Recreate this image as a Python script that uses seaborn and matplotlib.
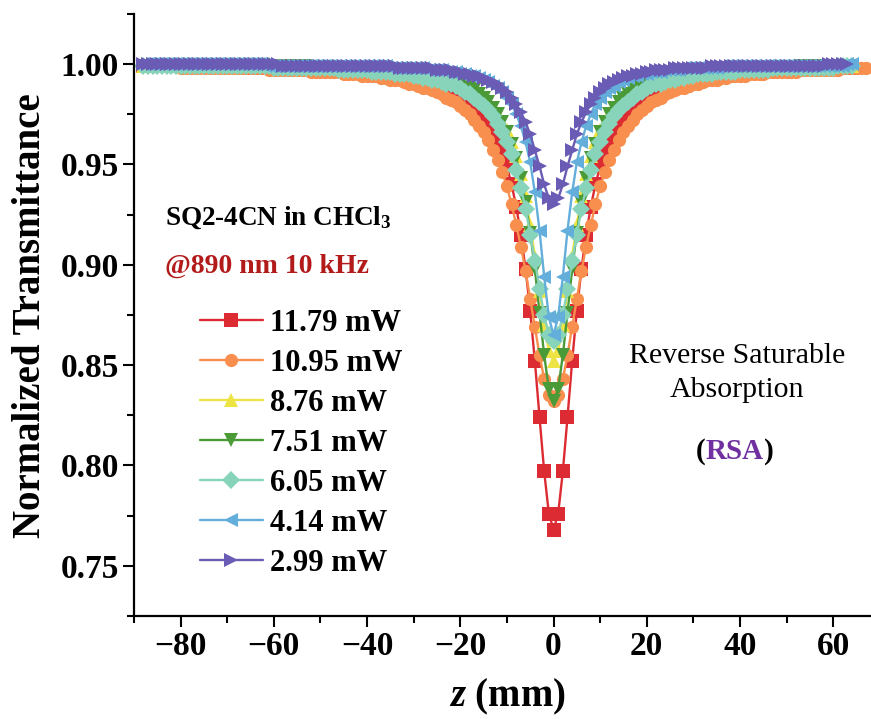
import numpy as np
import pandas as pd
import matplotlib
matplotlib.use("Agg")
import matplotlib.pyplot as plt
from matplotlib.ticker import MultipleLocator, FormatStrFormatter
import seaborn as sns

# ---------------- data ----------------
powers = ["11.79 mW", "10.95 mW", "8.76 mW", "7.51 mW", "6.05 mW", "4.14 mW", "2.99 mW"]
colors = ["#DC2B33", "#F98F4E", "#EDE443", "#4A9A38", "#88D4BB", "#64AEDC", "#6A5BB4"]
markers = ["s", "o", "^", "v", "D", "<", ">"]
z_start = -88  # first z position (mm), 1 mm step

t_1179 = [
    0.999, 0.999, 0.999, 0.999, 0.999, 0.999, 0.999, 0.999, 0.999, 0.999,
    0.999, 0.999, 0.999, 0.999, 0.999, 0.999, 0.999, 0.999, 0.999, 0.999,
    0.999, 0.999, 0.999,
    0.998, 0.998, 0.998, 0.998, 0.998, 0.998, 0.998, 0.998, 0.998, 0.998,
    0.998, 0.998, 0.998, 0.998, 0.998,
    0.997, 0.997, 0.997, 0.997, 0.997, 0.997, 0.997, 0.997,
    0.996, 0.996, 0.996, 0.996, 0.996,
    0.995, 0.995, 0.995,
    0.994, 0.994, 0.994,
    0.993, 0.993, 0.992, 0.992, 0.991, 0.991, 0.990, 0.989, 0.988, 0.987,
    0.986, 0.985, 0.983, 0.981, 0.979, 0.977, 0.974, 0.971, 0.967, 0.962,
    0.956, 0.949, 0.940, 0.929, 0.915, 0.898, 0.877, 0.852, 0.824, 0.797, 0.776,
    0.768,
    0.776, 0.797, 0.824, 0.852, 0.877, 0.898, 0.915, 0.929, 0.940, 0.949,
    0.956, 0.962, 0.967, 0.971, 0.974, 0.977, 0.979, 0.981, 0.983, 0.985,
    0.986, 0.987, 0.988, 0.989, 0.990, 0.991, 0.991, 0.992, 0.992, 0.993, 0.993,
    0.994, 0.994, 0.994,
    0.995, 0.995, 0.995,
    0.996, 0.996, 0.996, 0.996, 0.996,
    0.997, 0.997, 0.997, 0.997, 0.997, 0.997, 0.997, 0.997,
    0.998, 0.998, 0.998, 0.998, 0.998, 0.998, 0.998, 0.998, 0.998, 0.998,
    0.998, 0.998, 0.998, 0.998,
]

t_1095 = [
    0.999, 0.999, 0.999, 0.999, 0.999, 0.999, 0.999, 0.999,
    0.998, 0.998, 0.998, 0.998, 0.998, 0.998, 0.998, 0.998, 0.998, 0.998,
    0.998, 0.998, 0.998, 0.998, 0.998, 0.998, 0.998, 0.998, 0.998,
    0.997, 0.997, 0.997, 0.997, 0.997, 0.997, 0.997, 0.997, 0.997,
    0.996, 0.996, 0.996, 0.996, 0.996, 0.996, 0.996,
    0.995, 0.995, 0.995, 0.995,
    0.994, 0.994, 0.994, 0.994,
    0.993, 0.993, 0.992, 0.992, 0.992, 0.991, 0.990, 0.990, 0.989, 0.988,
    0.988, 0.987, 0.986, 0.985, 0.983, 0.982, 0.981, 0.979, 0.977, 0.975,
    0.972, 0.969, 0.966, 0.962, 0.957, 0.952, 0.946, 0.939, 0.930, 0.920,
    0.909, 0.897, 0.883, 0.869, 0.855, 0.843, 0.835,
    0.832,
    0.835, 0.843, 0.855, 0.869, 0.883, 0.897, 0.909, 0.920, 0.930, 0.939,
    0.946, 0.952, 0.957, 0.962, 0.966, 0.969, 0.972, 0.975, 0.977, 0.979,
    0.981, 0.982, 0.983, 0.985, 0.986, 0.987, 0.988, 0.988, 0.989, 0.990,
    0.990, 0.991, 0.992, 0.992, 0.992, 0.993, 0.993,
    0.994, 0.994, 0.994, 0.994,
    0.995, 0.995, 0.995, 0.995,
    0.996, 0.996, 0.996, 0.996, 0.996, 0.996, 0.996,
    0.997, 0.997, 0.997, 0.997, 0.997, 0.997, 0.997, 0.997, 0.997,
    0.998, 0.998, 0.998, 0.998, 0.998, 0.998,
]

t_876 = [
    0.999, 0.999, 0.999, 0.999, 0.999, 0.999, 0.999, 0.999, 0.999, 0.999,
    0.999, 0.999, 0.999, 0.999, 0.999, 0.999, 0.999, 0.999, 0.999, 0.999,
    0.999, 0.999, 0.999, 0.999, 0.999, 0.999, 0.999, 0.999, 0.999, 0.999,
    0.999, 0.999, 0.999, 0.999, 0.999,
    0.998, 0.998, 0.998, 0.998, 0.998, 0.998, 0.998, 0.998, 0.998, 0.998,
    0.998, 0.998,
    0.997, 0.997, 0.997, 0.997, 0.997, 0.997, 0.997,
    0.996, 0.996, 0.996, 0.996,
    0.995, 0.995, 0.995, 0.994, 0.994, 0.993, 0.993, 0.992, 0.992, 0.991,
    0.990, 0.989, 0.988, 0.986, 0.985, 0.983, 0.981, 0.978, 0.975, 0.971,
    0.967, 0.961, 0.954, 0.945, 0.934, 0.920, 0.904, 0.887, 0.870, 0.857,
    0.852,
    0.857, 0.870, 0.887, 0.904, 0.920, 0.934, 0.945, 0.954, 0.961, 0.967,
    0.971, 0.975, 0.978, 0.981, 0.983, 0.985, 0.986, 0.988, 0.989, 0.990,
    0.991, 0.992, 0.992, 0.993, 0.993, 0.994, 0.994, 0.995, 0.995, 0.995,
    0.996, 0.996, 0.996, 0.996,
    0.997, 0.997, 0.997, 0.997, 0.997, 0.997, 0.997,
    0.998, 0.998, 0.998, 0.998, 0.998, 0.998, 0.998, 0.998, 0.998, 0.998,
    0.998, 0.998,
    0.999, 0.999, 0.999, 0.999, 0.999, 0.999, 0.999, 0.999, 0.999, 0.999,
    0.999,
]

t_751 = [
    0.999, 0.999, 0.999, 0.999, 0.999, 0.999, 0.999, 0.999, 0.999, 0.999,
    0.999, 0.999, 0.999, 0.999, 0.999, 0.999, 0.999, 0.999, 0.999, 0.999,
    0.999, 0.999, 0.999, 0.999, 0.999, 0.999, 0.999, 0.999, 0.999, 0.999,
    0.999, 0.999, 0.999, 0.999, 0.999, 0.999,
    0.998, 0.998, 0.998, 0.998, 0.998, 0.998, 0.998, 0.998, 0.998, 0.998,
    0.998, 0.998,
    0.997, 0.997, 0.997, 0.997, 0.997, 0.997,
    0.996, 0.996, 0.996, 0.996,
    0.995, 0.995, 0.995, 0.994, 0.994, 0.994, 0.993, 0.992, 0.992, 0.991,
    0.990, 0.989, 0.988, 0.987, 0.985, 0.983, 0.981, 0.978, 0.975, 0.971,
    0.966, 0.960, 0.953, 0.943, 0.931, 0.916, 0.898, 0.876, 0.855, 0.838,
    0.832,
    0.838, 0.855, 0.876, 0.898, 0.916, 0.931, 0.943, 0.953, 0.960, 0.966,
    0.971, 0.975, 0.978, 0.981, 0.983, 0.985, 0.987, 0.988, 0.989, 0.990,
    0.991, 0.992, 0.992, 0.993, 0.994, 0.994, 0.994, 0.995, 0.995, 0.995,
    0.996, 0.996, 0.996, 0.996,
    0.997, 0.997, 0.997, 0.997, 0.997, 0.997,
    0.998, 0.998, 0.998, 0.998, 0.998, 0.998, 0.998, 0.998, 0.998, 0.998,
    0.998, 0.998,
    0.999, 0.999, 0.999, 0.999, 0.999, 0.999, 0.999, 0.999, 0.999, 0.999,
    0.999, 0.999,
]

t_605 = [
    0.999, 0.999, 0.999, 0.999, 0.999, 0.999, 0.999, 0.999, 0.999, 0.999,
    0.999, 0.999, 0.999, 0.999, 0.999, 0.999, 0.999, 0.999, 0.999, 0.999,
    0.999, 0.999, 0.999, 0.999, 0.999, 0.999, 0.999, 0.999,
    0.998, 0.998, 0.998, 0.998, 0.998, 0.998, 0.998, 0.998, 0.998, 0.998,
    0.998, 0.998, 0.998, 0.998,
    0.997, 0.997, 0.997, 0.997, 0.997, 0.997, 0.997,
    0.996, 0.996, 0.996, 0.996, 0.996,
    0.995, 0.995, 0.995, 0.995,
    0.994, 0.994, 0.993, 0.993, 0.992, 0.992, 0.991, 0.990, 0.990, 0.989,
    0.988, 0.986, 0.985, 0.983, 0.981, 0.979, 0.977, 0.974, 0.970, 0.966,
    0.961, 0.955, 0.947, 0.938, 0.928, 0.915, 0.902, 0.888, 0.875, 0.865,
    0.862,
    0.865, 0.875, 0.888, 0.902, 0.915, 0.928, 0.938, 0.947, 0.955, 0.961,
    0.966, 0.970, 0.974, 0.977, 0.979, 0.981, 0.983, 0.985, 0.986, 0.988,
    0.989, 0.990, 0.990, 0.991, 0.992, 0.992, 0.993, 0.993, 0.994, 0.994,
    0.995, 0.995, 0.995, 0.995,
    0.996, 0.996, 0.996, 0.996, 0.996,
    0.997, 0.997, 0.997, 0.997, 0.997, 0.997, 0.997,
    0.998, 0.998, 0.998, 0.998, 0.998, 0.998, 0.998, 0.998, 0.998, 0.998,
    0.998, 0.998, 0.998, 0.998,
    0.999, 0.999, 0.999, 0.999,
]

t_414 = [
    1.000, 1.000, 1.000, 1.000, 1.000, 1.000, 1.000, 1.000, 1.000, 1.000,
    1.000, 1.000, 1.000, 1.000, 1.000, 1.000, 1.000, 1.000, 1.000, 1.000,
    1.000, 1.000, 1.000, 1.000, 1.000, 1.000,
    0.999, 0.999, 0.999, 0.999, 0.999, 0.999, 0.999, 0.999, 0.999, 0.999,
    0.999, 0.999, 0.999, 0.999, 0.999, 0.999, 0.999, 0.999, 0.999, 0.999,
    0.999, 0.999, 0.999, 0.999, 0.999, 0.999, 0.999,
    0.998, 0.998, 0.998, 0.998, 0.998, 0.998, 0.998, 0.998,
    0.997, 0.997, 0.997, 0.997,
    0.996, 0.996, 0.996,
    0.995, 0.995, 0.994, 0.994, 0.993, 0.992, 0.991, 0.989, 0.988, 0.986,
    0.983, 0.980, 0.975, 0.969, 0.961, 0.951, 0.936, 0.917, 0.894, 0.874,
    0.865,
    0.874, 0.894, 0.917, 0.936, 0.951, 0.961, 0.969, 0.975, 0.980, 0.983,
    0.986, 0.988, 0.989, 0.991, 0.992, 0.993, 0.994, 0.994, 0.995, 0.995,
    0.996, 0.996, 0.996,
    0.997, 0.997, 0.997, 0.997,
    0.998, 0.998, 0.998, 0.998, 0.998, 0.998, 0.998, 0.998,
    0.999, 0.999, 0.999, 0.999, 0.999, 0.999, 0.999, 0.999, 0.999, 0.999,
    0.999, 0.999, 0.999, 0.999, 0.999, 0.999, 0.999, 0.999, 0.999, 0.999,
    0.999, 0.999, 0.999, 0.999, 0.999, 0.999, 0.999,
    1.000, 1.000,
]

t_299 = [
    1.000, 1.000, 1.000, 1.000, 1.000, 1.000, 1.000, 1.000, 1.000, 1.000,
    1.000, 1.000, 1.000, 1.000, 1.000, 1.000, 1.000, 1.000, 1.000, 1.000,
    1.000, 1.000, 1.000, 1.000, 1.000, 1.000, 1.000, 1.000, 1.000, 1.000,
    0.999, 0.999, 0.999, 0.999, 0.999, 0.999, 0.999, 0.999, 0.999, 0.999,
    0.999, 0.999, 0.999, 0.999, 0.999, 0.999, 0.999, 0.999, 0.999, 0.999,
    0.999, 0.999, 0.999, 0.999, 0.999,
    0.998, 0.998, 0.998, 0.998, 0.998, 0.998, 0.998, 0.998,
    0.997, 0.997, 0.997, 0.997,
    0.996, 0.996, 0.995, 0.995, 0.994, 0.994, 0.993, 0.992, 0.991, 0.990,
    0.988, 0.986, 0.983, 0.980, 0.976, 0.971, 0.965, 0.957, 0.949, 0.940,
    0.933,
    0.930,
    0.933, 0.940, 0.949, 0.957, 0.965, 0.971, 0.976, 0.980, 0.983, 0.986,
    0.988, 0.990, 0.991, 0.992, 0.993, 0.994, 0.994, 0.995, 0.995, 0.996,
    0.996,
    0.997, 0.997, 0.997, 0.997,
    0.998, 0.998, 0.998, 0.998, 0.998, 0.998, 0.998, 0.998,
    0.999, 0.999, 0.999, 0.999, 0.999, 0.999, 0.999, 0.999, 0.999, 0.999,
    0.999, 0.999, 0.999, 0.999, 0.999, 0.999, 0.999, 0.999, 0.999, 0.999,
    0.999, 0.999, 0.999, 0.999, 0.999,
    1.000, 1.000, 1.000, 1.000, 1.000,
]

x_ticks = [-80, -60, -40, -20, 0, 20, 40, 60]
y_ticks = [0.75, 0.80, 0.85, 0.90, 0.95, 1.00]

series = [t_1179, t_1095, t_876, t_751, t_605, t_414, t_299]
frames = []
for p, t in zip(powers, series):
    z = np.arange(z_start, z_start + len(t))
    frames.append(pd.DataFrame({"z": z, "T": t, "power": p}))
df = pd.concat(frames, ignore_index=True)

# ---------------- style ----------------
sns.set_theme(style="ticks")
plt.rcParams["font.family"] = ["Liberation Serif", "DejaVu Serif"]
plt.rcParams["mathtext.fontset"] = "custom"
plt.rcParams["mathtext.rm"] = "Liberation Serif:bold"
plt.rcParams["mathtext.bf"] = "Liberation Serif:bold"
plt.rcParams["mathtext.it"] = "Liberation Serif:italic:bold"
plt.rcParams["axes.unicode_minus"] = True
for k in ["text.color", "axes.labelcolor", "xtick.color", "ytick.color", "axes.edgecolor"]:
    plt.rcParams[k] = "black"

W, H = 871, 719
fig = plt.figure(figsize=(W / 100, H / 100), dpi=100)


def fx(x):
    return x / W


def fy(y):
    return 1 - y / H


ax_left, ax_right, ax_top, ax_bot = 134, 879.8, 13.8, 616
ax = fig.add_axes([fx(ax_left), fy(ax_bot), (ax_right - ax_left) / W, (ax_bot - ax_top) / H])

sns.lineplot(
    data=df, x="z", y="T", hue="power", style="power",
    hue_order=powers, style_order=powers,
    palette=dict(zip(powers, colors)),
    markers=dict(zip(powers, markers)), dashes=False,
    estimator=None, sort=False, lw=1.7, markersize=9.5,
    markeredgewidth=0, ax=ax, legend=True,
)

ax.set_xlim(-90, 70)
ax.set_ylim(0.725, 1.025)
ax.set_xticks(x_ticks)
ax.set_yticks(y_ticks)
ax.xaxis.set_minor_locator(MultipleLocator(10))
ax.yaxis.set_minor_locator(MultipleLocator(0.025))
ax.yaxis.set_major_formatter(FormatStrFormatter("%.2f"))
for s in ["top", "right"]:
    ax.spines[s].set_visible(False)
for s in ["left", "bottom"]:
    ax.spines[s].set_linewidth(1.6)
    ax.spines[s].set_color("black")
ax.tick_params(which="major", direction="out", length=8, width=1.5, color="black", pad=3)
ax.tick_params(which="minor", direction="out", length=5, width=1.5, color="black")
for lab in ax.get_xticklabels() + ax.get_yticklabels():
    lab.set_fontweight("bold")
    lab.set_fontsize(24)
    lab.set_color("black")

ax.set_xlabel("$z$ (mm)", fontsize=28, fontweight="bold", color="black")
ax.set_ylabel("Normalized Transmittance", fontsize=28, fontweight="bold", color="black")
ax.xaxis.set_label_coords((507 - ax_left) / (ax_right - ax_left), (ax_bot - 697) / (ax_bot - ax_top))
ax.yaxis.set_label_coords((31 - ax_left) / (ax_right - ax_left), (ax_bot - 316) / (ax_bot - ax_top))
ax.xaxis.label.set_va("center")
ax.yaxis.label.set_va("center")
ax.yaxis.label.set_ha("center")

handles, labels = ax.get_legend_handles_labels()
leg = ax.legend(
    handles, labels, loc="upper left", bbox_to_anchor=(fx(200), fy(309)),
    bbox_transform=fig.transFigure, frameon=False,
    prop={"family": "Liberation Serif", "weight": "bold", "size": 22},
    handlelength=2.05, handletextpad=0.25, labelspacing=0.36, borderpad=0,
    borderaxespad=0,
)
for t in leg.get_texts():
    t.set_color("black")

fig.text(fx(165), fy(218), "SQ2-4CN in CHCl$_3$", fontsize=19.5, fontweight="bold",
         color="black", ha="left", va="center")
fig.text(fx(165), fy(266), "@890 nm 10 kHz", fontsize=20, fontweight="bold",
         color="#B31B1B", ha="left", va="center")
fig.text(fx(737), fy(356), "Reverse Saturable", fontsize=21.5, color="black",
         ha="center", va="center")
fig.text(fx(737), fy(390), "Absorption", fontsize=21.5, color="black",
         ha="center", va="center")

# "(RSA)" with purple RSA
renderer = fig.canvas.get_renderer()
parts = [("(", "black"), ("RSA", "#7030A0"), (")", "black")]
txts = []
for s, c in parts:
    txts.append(fig.text(0, fy(452), s, fontsize=21, fontweight="bold", color=c,
                         ha="left", va="center"))
widths = [t.get_window_extent(renderer).width for t in txts]
x0 = 735 - sum(widths) / 2
for t, w in zip(txts, widths):
    t.set_x(fx(x0))
    x0 += w

fig.savefig("out.png", dpi=100)
